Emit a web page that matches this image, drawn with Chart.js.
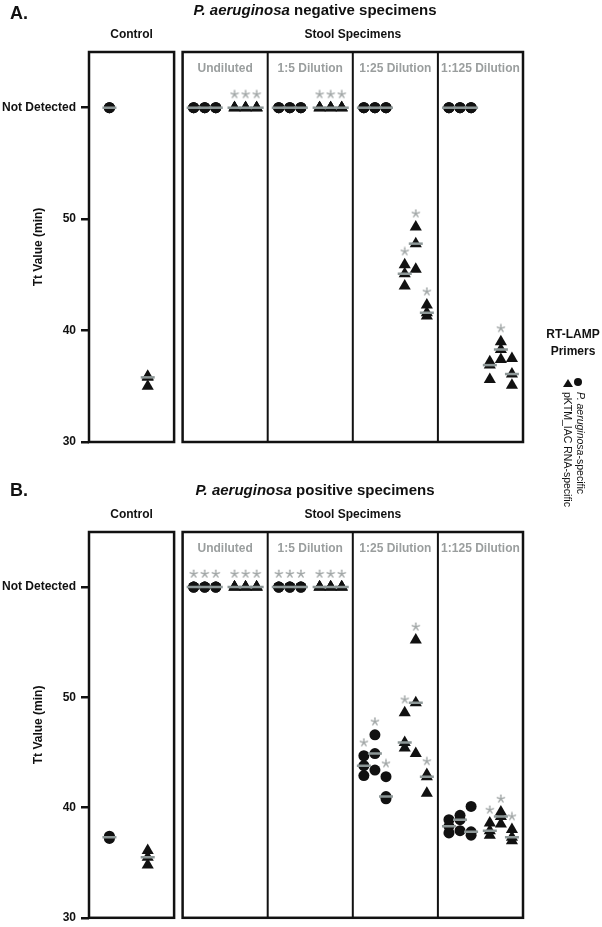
<!DOCTYPE html>
<html>
<head>
<meta charset="utf-8">
<script src="https://cdn.jsdelivr.net/npm/chart.js@4.4.0/dist/chart.umd.min.js"></script>
<style>
  body { margin: 0; width: 602px; height: 927px; overflow: hidden; background: #fff;
         font-family: 'Liberation Sans', Arial, sans-serif; color: #111; position: relative; }
  canvas { position: absolute; left: 0; }
  .letter { position: absolute; left: 10px; font-weight: bold; font-size: 18px; line-height: 20px; }
  .title { position: absolute; left: 89px; width: 452px; text-align: center; font-weight: bold;
           font-size: 15px; line-height: 18px; }
  .lg-title { position: absolute; left: 545px; width: 56px; top: 326px; text-align: center;
              font-weight: bold; font-size: 12px; line-height: 17px; }
  .lg-text { position: absolute; top: 392px; writing-mode: vertical-rl; font-size: 10.5px;
             line-height: 12px; white-space: nowrap; }
  .lg-dot { position: absolute; left: 574px; top: 378px; width: 8px; height: 8px; border-radius: 50%; background: #111; }
  .lg-tri { position: absolute; left: 563px; top: 379px; width: 0; height: 0;
            border-left: 5px solid transparent; border-right: 5px solid transparent; border-bottom: 8px solid #111; }
</style>
</head>
<body>
<canvas id="chartNeg" width="602" height="480" style="top:0"></canvas>
<canvas id="chartPos" width="602" height="450" style="top:480px"></canvas>

<div class="letter" style="top:3px">A.</div>
<div class="title" style="top:1px"><i>P. aeruginosa</i> negative specimens</div>
<div class="letter" style="top:480px">B.</div>
<div class="title" style="top:481px"><i>P. aeruginosa</i> positive specimens</div>

<div class="lg-title">RT-LAMP<br>Primers</div>
<div class="lg-tri"></div>
<div class="lg-dot"></div>
<div class="lg-text" style="left:562px">pKTM_IAC RNA-specific</div>
<div class="lg-text" style="left:575px"><i>P. aeruginosa</i>-specific</div>

<script>
const sections = ['Control', 'Stool Specimens'];
const groups = ['Control', 'Undiluted', '1:5 Dilution', '1:25 Dilution', '1:125 Dilution'];
const ND = 60; // "Not Detected" is plotted above the highest Tt
const yTickValues = [30, 40, 50, ND];
const yTickLabels = ['30', '40', '50', 'Not Detected'];

// one inner array per specimen, holding the replicate Tt values (min)
const negPaeru = [
    [[ND, ND, ND]],
    [[ND, ND, ND], [ND, ND, ND], [ND, ND, ND]],
    [[ND, ND, ND], [ND, ND, ND], [ND, ND, ND]],
    [[ND, ND, ND], [ND, ND, ND], [ND, ND, ND]],
    [[ND, ND, ND], [ND, ND, ND], [ND, ND, ND]]
];
const negIac = [
    [[35.9, 35.8, 35.0]],
    [[ND, ND, ND], [ND, ND, ND], [ND, ND, ND]],
    [[ND, ND, ND], [ND, ND, ND], [ND, ND, ND]],
    [[45.9, 45.1, 44.0], [49.3, 47.8, 45.5], [42.3, 41.6, 41.3]],
    [[37.2, 36.9, 35.6], [39.0, 38.3, 37.4], [37.5, 36.1, 35.1]]
];
const negPaeruStars = [[0], [0, 0, 0], [0, 0, 0], [0, 0, 0], [0, 0, 0]];
const negIacStars = [[0], [1, 1, 1], [1, 1, 1], [1, 1, 1], [0, 1, 0]];

const posPaeru = [
    [[37.4, 37.3, 37.2]],
    [[ND, ND, ND], [ND, ND, ND], [ND, ND, ND]],
    [[ND, ND, ND], [ND, ND, ND], [ND, ND, ND]],
    [[44.7, 43.8, 42.9], [46.6, 44.9, 43.4], [42.8, 41.0, 40.8]],
    [[38.9, 38.3, 37.7], [39.3, 38.9, 37.9], [40.1, 37.8, 37.5]]
];
const posIac = [
    [[36.1, 35.5, 34.8]],
    [[ND, ND, ND], [ND, ND, ND], [ND, ND, ND]],
    [[ND, ND, ND], [ND, ND, ND], [ND, ND, ND]],
    [[48.6, 45.9, 45.4], [55.2, 49.5, 44.9], [43.0, 42.8, 41.3]],
    [[38.6, 37.9, 37.5], [39.6, 39.2, 38.5], [38.0, 37.3, 37.0]]
];
const posPaeruStars = [[0], [1, 1, 1], [1, 1, 1], [1, 1, 1], [0, 0, 0]];
const posIacStars = [[0], [1, 1, 1], [1, 1, 1], [1, 1, 1], [1, 1, 1]];

// x layout: each group is one unit wide, small gap between the two boxes
const groupStart = [0, 1.1, 2.1, 3.1, 4.1];
const sectionEdges = [[0, 1], [1.1, 5.1]];

const FONT = "'Liberation Sans', Arial, sans-serif";
const GREY = '#8d9797';
const STAR_GREY = '#a2a7a7';

function columnX(g, primer, s) {
    if (g === 0) return primer === 0 ? 0.24 : 0.69;
    return groupStart[g] + (primer === 0 ? 0.13 : 0.61) + 0.13 * s;
}

function median(arr) {
    const s = [...arr].sort((a, b) => a - b);
    return s[Math.floor(s.length / 2)];
}

// five-armed asterisk, like the "*" glyph in the original
function asteriskImage() {
    const c = document.createElement('canvas');
    c.width = 10;
    c.height = 10;
    const g = c.getContext('2d');
    g.strokeStyle = STAR_GREY;
    g.lineWidth = 1.4;
    g.lineCap = 'round';
    for (let k = 0; k < 5; k++) {
        const a = -Math.PI / 2 + k * 2 * Math.PI / 5;
        g.beginPath();
        g.moveTo(5, 5);
        g.lineTo(5 + 3.8 * Math.cos(a), 5 + 3.8 * Math.sin(a));
        g.stroke();
    }
    return c;
}
const asterisk = asteriskImage();

function buildDatasets(paeru, iac, paeruStars, iacStars) {
    const circles = [], triangles = [], bars = [], stars = [];
    [[paeru, paeruStars, circles, 0], [iac, iacStars, triangles, 1]].forEach(([vals, flags, out, p]) => {
        vals.forEach((specimens, g) => {
            specimens.forEach((reps, s) => {
                const x = columnX(g, p, s);
                reps.forEach(v => out.push({ x: x, y: v }));
                bars.push({ x: x, y: median(reps) });
                if (flags[g][s]) stars.push({ x: x, y: Math.max(...reps) + 1.2 });
            });
        });
    });
    return [
        { data: bars, pointStyle: 'line', pointRadius: 7, borderColor: GREY, pointBorderWidth: 2.5, order: 0 },
        { data: stars, pointStyle: asterisk, pointRadius: 4, order: 1 },
        { data: circles, pointStyle: 'circle', pointRadius: 5.5, backgroundColor: '#111', borderColor: '#111', pointBorderWidth: 0, order: 2 },
        { data: triangles, pointStyle: 'triangle', pointRadius: 7, backgroundColor: '#111', borderColor: '#111', pointBorderWidth: 0, order: 2 }
    ];
}

const framesPlugin = {
    id: 'frames',
    beforeDatasetsDraw(chart) {
        const { ctx, chartArea: { top, bottom }, scales: { x } } = chart;
        ctx.save();
        ctx.strokeStyle = '#111';
        ctx.lineWidth = 2.5;
        sectionEdges.forEach(([a, b]) => {
            const xa = x.getPixelForValue(a), xb = x.getPixelForValue(b);
            ctx.strokeRect(xa, top, xb - xa, bottom - top);
        });
        ctx.lineWidth = 2;
        for (let g = 2; g < groups.length; g++) {
            const xp = x.getPixelForValue(groupStart[g]);
            ctx.beginPath();
            ctx.moveTo(xp, top);
            ctx.lineTo(xp, bottom);
            ctx.stroke();
        }
        ctx.font = 'bold 12px ' + FONT;
        ctx.textAlign = 'center';
        ctx.textBaseline = 'middle';
        ctx.fillStyle = '#111';
        sections.forEach((name, i) => {
            const c = (x.getPixelForValue(sectionEdges[i][0]) + x.getPixelForValue(sectionEdges[i][1])) / 2;
            ctx.fillText(name, c, top - 17);
        });
        ctx.fillStyle = '#9a9e9e';
        for (let g = 1; g < groups.length; g++) {
            const c = x.getPixelForValue(groupStart[g] + 0.5);
            ctx.fillText(groups[g], c, top + 17);
        }
        ctx.restore();
    }
};

function makeChart(id, datasets, padBottom) {
    return new Chart(document.getElementById(id), {
        type: 'scatter',
        data: { datasets: datasets },
        plugins: [framesPlugin],
        options: {
            responsive: false,
            animation: false,
            layout: { padding: { top: 52, right: 79, bottom: padBottom, left: 0 } },
            plugins: { legend: { display: false }, tooltip: { enabled: false } },
            scales: {
                x: { type: 'linear', display: false, min: 0, max: 5.1 },
                y: {
                    min: 30,
                    max: 65,
                    afterBuildTicks: s => { s.ticks = yTickValues.map(v => ({ value: v })); },
                    afterFit: s => { s.width = 89; },
                    ticks: {
                        callback: v => yTickLabels[yTickValues.indexOf(v)],
                        font: { family: FONT, size: 12, weight: 'bold' },
                        color: '#111',
                        padding: 5
                    },
                    grid: { drawOnChartArea: false, drawTicks: true, tickLength: 8, color: '#111', lineWidth: 2.5 },
                    border: { display: false },
                    title: {
                        display: true,
                        text: 'Tt Value (min)',
                        font: { family: FONT, size: 12, weight: 'bold' },
                        color: '#111',
                        padding: { top: 31, bottom: 0 }
                    }
                }
            }
        }
    });
}

makeChart('chartNeg', buildDatasets(negPaeru, negIac, negPaeruStars, negIacStars), 38);
makeChart('chartPos', buildDatasets(posPaeru, posIac, posPaeruStars, posIacStars), 8);
</script>
</body>
</html>
